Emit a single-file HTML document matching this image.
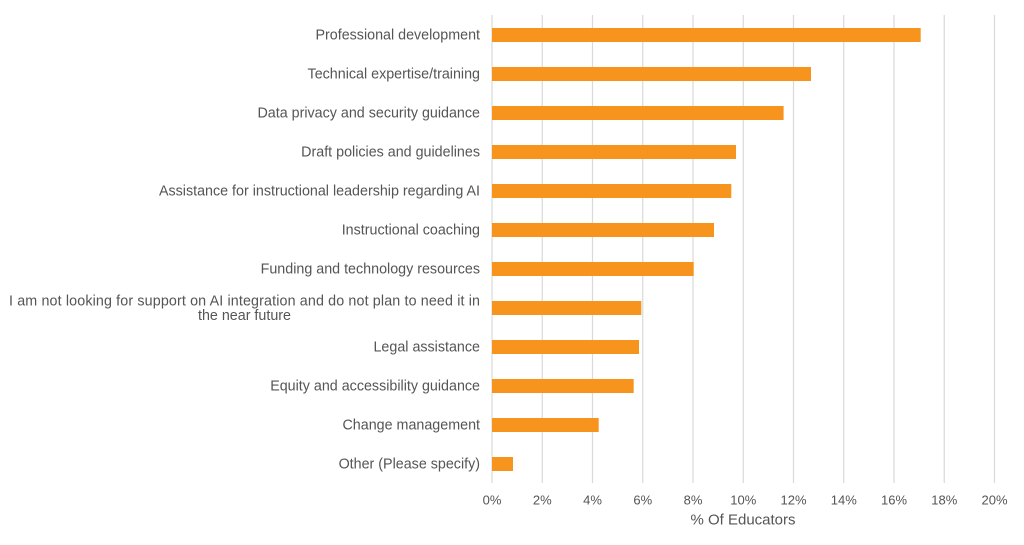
<!DOCTYPE html>
<html>
<head>
<meta charset="utf-8">
<style>
html,body{margin:0;padding:0;background:#fff;}
svg{display:block;}
text{font-family:"Liberation Sans",sans-serif;fill:#555555;}
</style>
</head>
<body>
<svg width="1024" height="545" viewBox="0 0 1024 545" xmlns="http://www.w3.org/2000/svg">
  <g stroke="#d9d9d9" stroke-width="1.2">
    <line x1="492" y1="15" x2="492" y2="483"/>
    <line x1="542.25" y1="15" x2="542.25" y2="483"/>
    <line x1="592.5" y1="15" x2="592.5" y2="483"/>
    <line x1="642.75" y1="15" x2="642.75" y2="483"/>
    <line x1="693" y1="15" x2="693" y2="483"/>
    <line x1="743.25" y1="15" x2="743.25" y2="483"/>
    <line x1="793.5" y1="15" x2="793.5" y2="483"/>
    <line x1="843.75" y1="15" x2="843.75" y2="483"/>
    <line x1="894" y1="15" x2="894" y2="483"/>
    <line x1="944.25" y1="15" x2="944.25" y2="483"/>
    <line x1="994.5" y1="15" x2="994.5" y2="483"/>
  </g>
  <g fill="#F7941E">
    <rect x="492" y="28" width="428.7" height="14"/>
    <rect x="492" y="67" width="319" height="14"/>
    <rect x="492" y="106" width="291.6" height="14"/>
    <rect x="492" y="145" width="244" height="14"/>
    <rect x="492" y="184" width="239.3" height="14"/>
    <rect x="492" y="223" width="222" height="14"/>
    <rect x="492" y="262" width="201.7" height="14"/>
    <rect x="492" y="301" width="149.3" height="14"/>
    <rect x="492" y="340" width="147" height="14"/>
    <rect x="492" y="379" width="141.7" height="14"/>
    <rect x="492" y="418" width="106.7" height="14"/>
    <rect x="492" y="457" width="21" height="14"/>
  </g>
  <g font-size="14.3" text-anchor="end">
    <text x="480" y="39.5">Professional development</text>
    <text x="480" y="78.5">Technical expertise/training</text>
    <text x="480" y="117.5">Data privacy and security guidance</text>
    <text x="480" y="156.5">Draft policies and guidelines</text>
    <text x="480" y="195.5">Assistance for instructional leadership regarding AI</text>
    <text x="480" y="234.5">Instructional coaching</text>
    <text x="480" y="273.5">Funding and technology resources</text>
    <text x="480" y="305.5" textLength="471" lengthAdjust="spacing">I am not looking for support on AI integration and do not plan to need it in</text>
    <text x="480" y="351.5">Legal assistance</text>
    <text x="480" y="390.5">Equity and accessibility guidance</text>
    <text x="480" y="429.5">Change management</text>
    <text x="480" y="468.5">Other (Please specify)</text>
  </g>
  <text x="244.5" y="320" font-size="14.3" text-anchor="middle">the near future</text>
  <g font-size="13" text-anchor="middle">
    <text x="492" y="504.5">0%</text>
    <text x="542.25" y="504.5">2%</text>
    <text x="592.5" y="504.5">4%</text>
    <text x="642.75" y="504.5">6%</text>
    <text x="693" y="504.5">8%</text>
    <text x="743.25" y="504.5">10%</text>
    <text x="793.5" y="504.5">12%</text>
    <text x="843.75" y="504.5">14%</text>
    <text x="894" y="504.5">16%</text>
    <text x="944.25" y="504.5">18%</text>
    <text x="994.5" y="504.5">20%</text>
  </g>
  <text x="743" y="524.5" font-size="15" text-anchor="middle">% Of Educators</text>
</svg>
</body>
</html>
